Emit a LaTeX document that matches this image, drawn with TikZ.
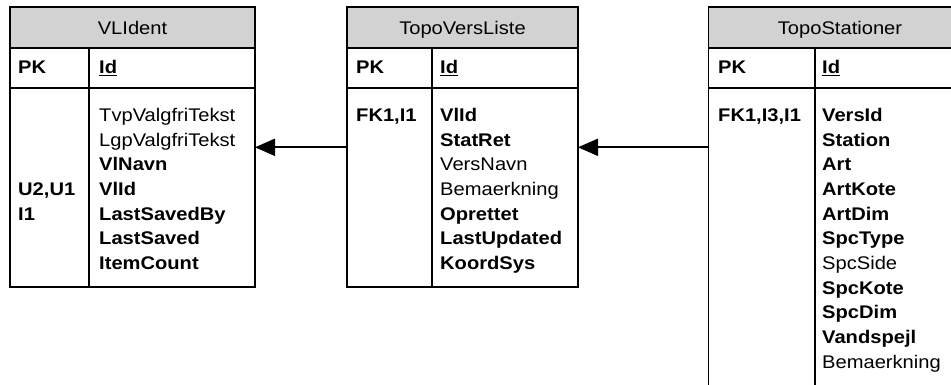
\documentclass[tikz,border=0pt]{standalone}
\usepackage{fontspec}
\setmainfont{Liberation Sans}[FakeStretch=1.1]
\usetikzlibrary{arrows.meta}
\definecolor{headgray}{RGB}{210,210,210}
\begin{document}
\begin{tikzpicture}[x=1pt,y=-1pt,
  cell/.style={draw=black, line width=1.3pt, inner sep=0pt, outer sep=0pt,
    anchor=north west, rectangle},
  headcell/.style={cell, fill=headgray},
  txt/.style={inner sep=0pt, anchor=base west, font=\fontsize{18.3}{22}\selectfont},
  headtxt/.style={txt, anchor=base},
  fk/.style={line width=2pt, -{Triangle[length=20pt,width=17pt]}}]
\useasboundingbox (0,0) rectangle (951,384);
\clip (0,0) rectangle (951,384);
\fill[white] (0,0) rectangle (951,384);

% ---------- VLIdent ----------
\node[headcell, minimum width=245pt, minimum height=41pt] (vlhead) at (10,7) {};
\node[cell, minimum width=79pt, minimum height=40pt] (vlpkkey) at (10,48) {};
\node[cell, minimum width=166pt, minimum height=40pt] (vlpkfld) at (89,48) {};
\node[cell, minimum width=79pt, minimum height=199pt] (vlkey) at (10,88) {};
\node[cell, minimum width=166pt, minimum height=199pt] (vlfld) at (89,88) {};
\node[headtxt] (vltitle) at (132.5,34) {VLIdent};
\node[txt] (vlpk) at (18,73.5) {\textbf{PK}};
\node[txt] (vlid) at (99,73.5) {\underline{\textbf{Id}}};
\node[txt] (vlk1) at (18,{121.3+3*24.7}) {\textbf{U2,U1}};
\node[txt] (vlk2) at (18,{121.3+4*24.7}) {\textbf{I1}};
\foreach \t [count=\i] in {TvpValgfriTekst, LgpValgfriTekst, {\textbf{VlNavn}},
    {\textbf{VlId}}, {\textbf{LastSavedBy}}, {\textbf{LastSaved}}, {\textbf{ItemCount}}}
  \node[txt] (vlf\i) at (99,{121.3+(\i-1)*24.7}) {\t};

% ---------- TopoVersListe ----------
\node[headcell, minimum width=231pt, minimum height=41pt] (tvlhead) at (347,7) {};
\node[cell, minimum width=85pt, minimum height=40pt] (tvlpkkey) at (347,48) {};
\node[cell, minimum width=146pt, minimum height=40pt] (tvlpkfld) at (432,48) {};
\node[cell, minimum width=85pt, minimum height=199pt] (tvlkey) at (347,88) {};
\node[cell, minimum width=146pt, minimum height=199pt] (tvlfld) at (432,88) {};
\node[headtxt] (tvltitle) at (462.5,34) {TopoVersListe};
\node[txt] (tvlpk) at (356,73.5) {\textbf{PK}};
\node[txt] (tvlid) at (440,73.5) {\underline{\textbf{Id}}};
\node[txt] (tvlk1) at (356,121.3) {\textbf{FK1,I1}};
\foreach \t [count=\i] in {{\textbf{VlId}}, {\textbf{StatRet}}, VersNavn, Bemaerkning,
    {\textbf{Oprettet}}, {\textbf{LastUpdated}}, {\textbf{KoordSys}}}
  \node[txt] (tvlf\i) at (440,{121.3+(\i-1)*24.7}) {\t};

% ---------- TopoStationer ----------
\node[headcell, minimum width=263pt, minimum height=41pt] (tsthead) at (708.5,7) {};
\node[cell, minimum width=106.5pt, minimum height=40pt] (tstpkkey) at (708.5,48) {};
\node[cell, minimum width=156.5pt, minimum height=40pt] (tstpkfld) at (815,48) {};
\node[cell, minimum width=106.5pt, minimum height=340pt] (tstkey) at (708.5,88) {};
\node[cell, minimum width=156.5pt, minimum height=340pt] (tstfld) at (815,88) {};
\node[headtxt] (tsttitle) at (840,34) {TopoStationer};
\node[txt] (tstpk) at (718,73.5) {\textbf{PK}};
\node[txt] (tstid) at (822,73.5) {\underline{\textbf{Id}}};
\node[txt] (tstk1) at (718,121.3) {\textbf{FK1,I3,I1}};
\foreach \t [count=\i] in {{\textbf{VersId}}, {\textbf{Station}}, {\textbf{Art}},
    {\textbf{ArtKote}}, {\textbf{ArtDim}}, {\textbf{SpcType}}, SpcSide,
    {\textbf{SpcKote}}, {\textbf{SpcDim}}, {\textbf{Vandspejl}}, Bemaerkning}
  \node[txt] (tstf\i) at (822,{121.3+(\i-1)*24.7}) {\t};

% ---------- relationships ----------
\coordinate (fkrow) at (0,147.3);
\draw[fk] (tvlkey.west |- fkrow) -- (vlfld.east |- fkrow);
\draw[fk] (tstkey.west |- fkrow) -- (tvlfld.east |- fkrow);
\end{tikzpicture}
\end{document}
